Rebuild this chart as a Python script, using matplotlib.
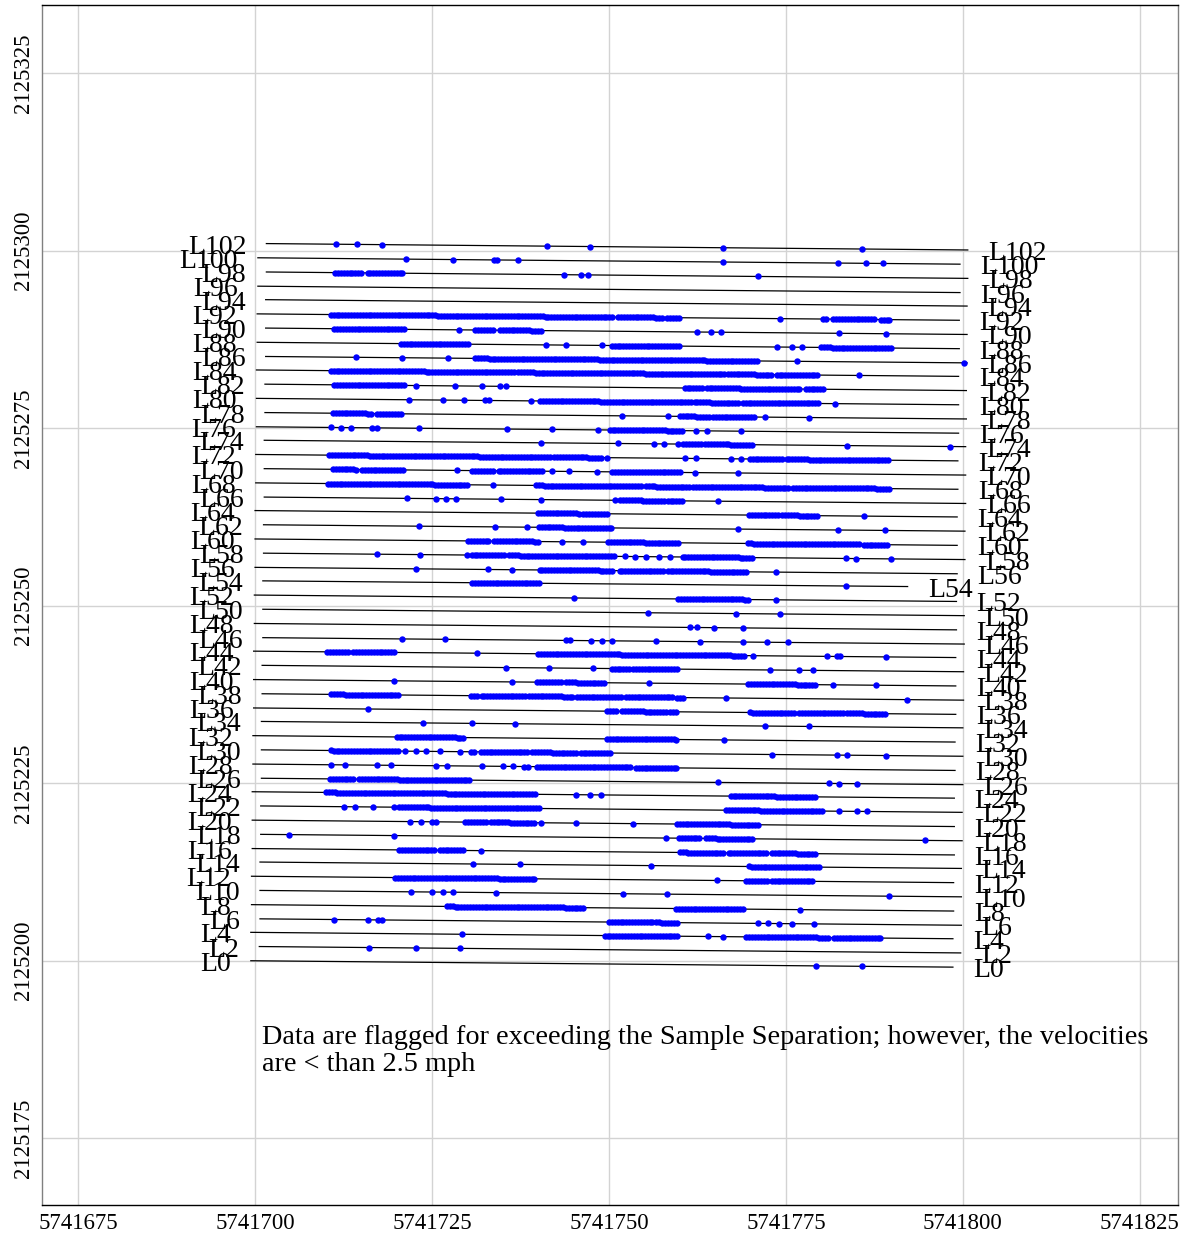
import numpy as np
import matplotlib.pyplot as plt

# survey origin (easting / northing), everything below is offset from it
E0 = 5741700.0
N0 = 2125200.0

line_names = ['L%d' % n for n in range(0, 104, 2)]

# line end points, offsets in map units (west end / east end)
west_e = [-0.6, 0.6, -0.6, 0.7, -0.5, 0.7, -0.5, 0.7, -0.4, 0.8, -0.4, 0.8, -0.4,
          0.9, -0.3, 0.9, -0.3, 0.9, -0.2, 1.0, -0.2, 1.0, -0.2, 1.1, -0.1, 1.1,
          -0.1, 1.1, 0.0, 1.2, 0.0, 1.2, 0.0, 1.3, 0.1, 1.3, 0.1, 1.3, 0.2, 1.4,
          0.2, 1.4, 0.2, 1.5, 0.3, 1.5, 0.3, 1.5, 0.4, 1.6, 0.4, 1.6]
east_e = [98.6, 99.7, 98.6, 99.8, 98.7, 99.8, 98.7, 99.8, 98.8, 99.9, 98.8, 99.9,
          98.8, 100.0, 98.9, 100.0, 98.9, 100.0, 99.0, 100.1, 99.0, 100.1, 99.0,
          100.2, 99.1, 100.2, 99.1, 92.2, 99.2, 100.3, 99.2, 100.3, 99.2, 100.4,
          99.3, 100.4, 99.3, 100.4, 99.4, 100.5, 99.4, 100.5, 99.4, 100.6, 99.5,
          100.6, 99.5, 100.6, 99.6, 100.7, 99.6, 100.7]
west_n = [0.0, 2.0, 4.0, 5.9, 7.9, 9.9, 11.9, 13.9, 15.8, 17.8, 19.8, 21.8, 23.8,
          25.7, 27.7, 29.7, 31.7, 33.7, 35.6, 37.6, 39.6, 41.6, 43.6, 45.5, 47.5,
          49.5, 51.5, 53.5, 55.4, 57.4, 59.4, 61.4, 63.4, 65.3, 67.3, 69.3, 71.3,
          73.3, 75.2, 77.2, 79.2, 81.2, 83.2, 85.1, 87.1, 89.1, 91.1, 93.1, 95.0,
          97.0, 99.0, 101.0]
east_n = [-0.9, 1.1, 3.1, 5.0, 7.0, 9.0, 11.0, 13.0, 14.9, 16.9, 18.9, 20.9, 22.9,
          24.8, 26.8, 28.8, 30.8, 32.8, 34.7, 36.7, 38.7, 40.7, 42.7, 44.6, 46.6,
          48.6, 50.6, 52.7, 54.5, 56.5, 58.5, 60.5, 62.5, 64.4, 66.4, 68.4, 70.4,
          72.4, 74.3, 76.3, 78.3, 80.3, 82.3, 84.2, 86.2, 88.2, 90.2, 92.2, 94.1,
          96.1, 98.1, 100.1]

# flagged samples: single points and dense runs (start, end) along each line
flag_pts = [
    [79.3, 85.7],
    [16.1, 22.7, 28.9],
    [29.2, 64.0, 66.1],
    [11.1, 16.0, 17.4, 18.0, 71.0, 72.5, 74.0, 75.9, 79.0],
    [77.0],
    [22.0, 25.0, 26.5, 27.9, 34.1, 52.0, 58.2, 89.6],
    [65.3],
    [30.8, 37.4, 55.9],
    [31.9],
    [4.8, 19.7, 58.0, 94.7],
    [21.9, 23.4, 25.0, 25.5, 40.4, 45.3, 53.4],
    [12.6, 14.1, 16.6, 19.6, 82.5, 85.0, 86.5],
    [45.4, 47.3, 48.9],
    [65.4, 81.1, 82.5, 85.0],
    [10.7, 12.7, 17.2, 19.2, 25.6, 27.1, 32.1, 35.0, 36.5, 38.0, 38.6],
    [21.2, 22.7, 24.2, 26.1, 29.0, 73.1, 82.2, 83.7, 89.1],
    [66.3],
    [23.7, 30.6, 36.7, 72.1, 78.3],
    [16.0],
    [66.5, 92.1],
    [19.7, 36.3, 55.6, 81.7, 87.8],
    [35.4, 41.6, 47.7, 72.8, 76.8, 78.8],
    [31.4, 70.4, 80.8, 82.2, 82.7, 89.2],
    [20.8, 26.9, 44.0, 44.5, 47.5, 49.0, 50.5, 56.7, 62.8, 69.0, 72.3, 75.3],
    [61.4, 62.4, 64.9, 68.9],
    [55.5, 68.0, 74.2],
    [45.0, 73.6],
    [83.5],
    [22.8, 32.9, 36.3, 73.6],
    [17.2, 23.3, 29.9, 52.2, 53.7, 55.2, 57.1, 58.6, 83.5, 84.9, 89.8],
    [43.3, 46.3],
    [23.1, 33.9, 38.4, 68.3, 82.3, 89.0],
    [86.1],
    [21.5, 25.5, 27.0, 28.4, 34.7, 40.4, 50.8, 65.4],
    [33.6],
    [28.6, 41.9, 44.4, 48.3, 62.1, 68.2],
    [49.7, 60.8, 62.3, 67.2, 68.7],
    [40.4, 51.3, 56.3, 57.8, 59.8, 83.6, 98.2],
    [10.7, 12.2, 13.6, 16.5, 17.2, 23.2, 35.6, 41.9, 48.5, 62.3, 63.8, 68.7],
    [51.9, 58.4, 72.0, 78.3],
    [21.7, 26.6, 29.5, 32.5, 33.1, 39.0, 82.0],
    [22.7, 28.2, 32.1, 34.6, 35.5],
    [85.4],
    [14.3, 20.7, 27.3, 76.5, 100.1],
    [41.1, 44.0, 49.0, 73.8, 75.8, 77.3],
    [28.8, 62.4, 64.4, 65.9, 82.5, 89.2],
    [74.2],
    [],
    [],
    [43.6, 46.1, 47.1, 71.0],
    [21.3, 27.9, 33.7, 34.2, 37.2, 66.1, 82.3, 86.3, 88.7],
    [11.4, 14.4, 17.9, 41.2, 47.3, 66.1, 85.7],
]
flag_runs = [
    [],
    [],
    [(49.4, 59.8), (69.4, 81.2), (81.8, 88.5)],
    [(50.0, 56.3), (56.7, 59.8)],
    [(27.1, 46.5), (59.5, 69.2)],
    [],
    [(19.8, 39.5), (69.4, 72.5), (73.0, 78.8)],
    [(69.8, 75.7), (76.0, 79.8)],
    [(20.4, 25.6), (26.1, 29.7), (60.0, 66.3), (66.9, 72.5), (73.0, 79.3)],
    [(59.9, 63.1), (63.7, 70.6)],
    [(29.7, 32.7), (33.3, 39.5), (59.6, 71.1)],
    [(20.4, 40.2), (66.6, 80.4)],
    [(10.0, 39.7), (67.2, 79.1)],
    [(10.6, 14.1), (14.7, 30.3)],
    [(39.9, 53.4), (53.8, 59.6)],
    [(10.7, 20.5), (30.5, 31.3), (31.9, 38.8), (39.2, 45.5), (46.0, 50.1)],
    [(20.0, 29.8), (49.7, 59.6)],
    [],
    [(49.7, 51.3), (51.9, 58.1), (58.6, 59.7), (70.0, 76.3), (76.9, 83.2), (83.7, 89.3)],
    [(10.8, 20.6), (30.5, 31.5), (32.0, 38.2), (38.7, 45.1), (45.5, 51.9), (52.4, 59.1), (59.6, 60.6)],
    [(39.9, 43.5), (44.0, 49.7), (69.7, 79.5)],
    [(50.4, 53.0), (53.4, 59.6)],
    [(10.2, 13.3), (13.9, 20.0), (40.0, 69.5)],
    [],
    [],
    [],
    [(59.8, 69.7)],
    [(30.7, 40.5)],
    [(40.2, 50.8), (51.5, 57.8), (58.3, 69.6)],
    [(30.6, 35.3), (35.9, 50.9), (60.4, 70.3)],
    [(30.1, 33.3), (33.8, 40.2), (49.9, 59.8), (69.7, 85.4), (86.0, 89.6)],
    [(40.1, 50.5)],
    [(40.0, 45.8), (46.4, 50.0), (69.8, 73.9), (74.5, 79.7)],
    [(51.6, 57.8), (58.3, 60.4)],
    [(10.3, 30.1), (39.7, 54.7), (55.2, 61.6), (61.9, 68.9), (69.2, 75.6), (76.0, 89.8)],
    [(11.0, 14.6), (15.1, 20.9), (30.7, 33.9), (34.4, 40.7), (50.5, 54.3), (54.7, 60.4)],
    [(10.5, 41.8), (42.3, 49.0), (69.9, 74.6), (75.1, 89.6)],
    [(60.5, 63.1), (63.6, 70.4)],
    [(50.1, 60.4)],
    [(11.0, 16.7), (17.3, 20.9), (60.0, 64.3), (64.7, 70.5)],
    [(40.3, 61.7), (62.1, 68.4), (68.9, 79.9)],
    [(11.2, 21.4), (60.7, 63.2), (63.8, 77.2), (77.8, 80.4)],
    [(10.7, 36.6), (37.2, 66.4), (66.8, 73.2), (73.7, 79.8)],
    [(31.1, 70.9)],
    [(20.6, 30.4), (50.4, 60.0), (80.0, 89.9)],
    [(11.2, 21.1), (31.1, 33.9), (34.6, 40.7)],
    [(10.7, 50.8), (51.3, 57.5), (58.2, 60.0), (80.2, 80.8), (81.7, 87.8), (88.4, 89.9)],
    [],
    [],
    [(11.3, 15.3), (15.9, 21.1)],
    [],
    [],
]
run_step = 0.41  # spacing of samples inside a flagged run

x_ticks = [5741675, 5741700, 5741725, 5741750, 5741775, 5741800, 5741825]
y_ticks = [2125175, 2125200, 2125225, 2125250, 2125275, 2125300, 2125325]

note = ("Data are flagged for exceeding the Sample Separation; however, the velocities\n"
        "are < than 2.5 mph")

plt.rcParams['font.family'] = ['Liberation Serif', 'DejaVu Serif']

fig = plt.figure(figsize=(11.84, 12.36), dpi=100)
ax = fig.add_axes([42 / 1184, 1 - 1205 / 1236, 1136 / 1184, 1200 / 1236])
ax.set_xlim(5741669.9, 5741830.4)
ax.set_ylim(2125165.6, 2125334.6)

ax.grid(True, color='#d3d3d3', lw=1.0)
ax.set_axisbelow(True)
ax.set_xticks(x_ticks)
ax.set_xticklabels([str(t) for t in x_ticks])
ax.set_yticks(y_ticks)
ax.set_yticklabels([str(t) for t in y_ticks], rotation=90, va='center')
ax.tick_params(length=0, labelsize=16.5, colors='black')
ax.tick_params(axis='x', pad=6)
ax.tick_params(axis='y', pad=6)
ax.spines['top'].set_color('black')
ax.spines['bottom'].set_color('black')
ax.spines['left'].set_color('#808080')
ax.spines['right'].set_color('#808080')
for spine in ax.spines.values():
    spine.set_linewidth(1.0)

# =========================
# survey lines + flagged samples
# =========================
for i, name in enumerate(line_names):
    xe = [E0 + west_e[i], E0 + east_e[i]]
    yn = [N0 + west_n[i], N0 + east_n[i]]
    ax.plot(xe, yn, color='black', lw=0.9, zorder=2)

    pts = list(flag_pts[i])
    for a, b in flag_runs[i]:
        pts += list(np.arange(a, b + 1e-6, run_step))
    if pts:
        px = E0 + np.array(pts)
        py = np.interp(px, xe, yn)
        ax.plot(px, py, 'o', color='#0000ff', ms=4.6, mew=0, zorder=3)

    ax.annotate(name, (xe[0], yn[0]), xytext=(-14.5, -2.5), textcoords='offset points',
                ha='right', va='center', fontsize=20, zorder=4)
    ax.annotate(name, (xe[1], yn[1]), xytext=(14.5, -2.5), textcoords='offset points',
                ha='left', va='center', fontsize=20, zorder=4)

ax.text(E0 + 1.0, N0 - 9.0, note, ha='left', va='top', fontsize=20.3, linespacing=1.1)

fig.savefig('out.png', dpi=100)
